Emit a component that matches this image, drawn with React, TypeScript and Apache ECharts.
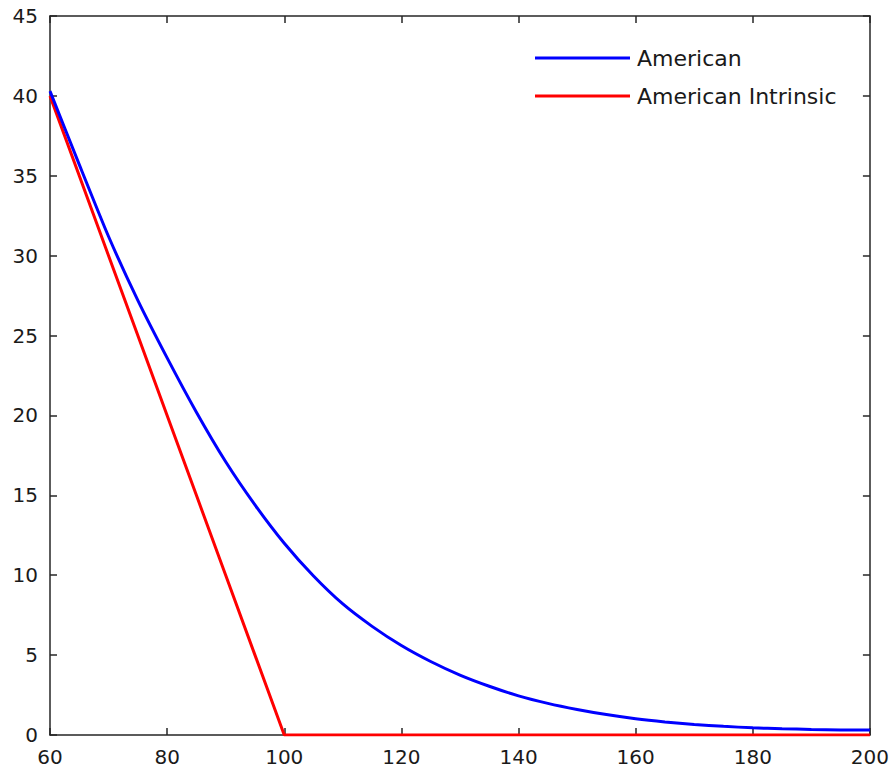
import React, { useEffect, useRef } from "react";
import * as echarts from "echarts";

const stockPrices = [60, 65, 70, 75, 80, 85, 90, 95, 100, 105, 110, 115, 120, 125, 130, 135, 140, 145, 150, 155, 160, 165, 170, 175, 180, 185, 190, 195, 200];
const americanValues = [40.3, 35.7, 31.2, 27.2, 23.6, 20.2, 17.1, 14.4, 12.0, 9.95, 8.2, 6.8, 5.6, 4.6, 3.75, 3.05, 2.45, 1.98, 1.6, 1.28, 1.02, 0.82, 0.66, 0.54, 0.45, 0.39, 0.35, 0.32, 0.31];
const intrinsicPrices = [60, 65, 70, 75, 80, 85, 90, 95, 100, 101, 200];
const intrinsicValues = [40, 35, 30, 25, 20, 15, 10, 5, 0, 0, 0];
const xTicks = [60, 80, 100, 120, 140, 160, 180, 200];
const yTicks = [0, 5, 10, 15, 20, 25, 30, 35, 40, 45];
const seriesNames = ["American", "American Intrinsic"];
const seriesColors = ["#0000ff", "#ff0000"];

const FONT = "DejaVu Sans";
const AXIS_COLOR = "#262626";
const TEXT_COLOR = "#1a1a1a";

function mkLine() {
  return { show: true, onZero: false, lineStyle: { color: AXIS_COLOR, width: 1.5 } };
}
function mkTick() {
  return { show: true, inside: true, length: 7, lineStyle: { color: AXIS_COLOR, width: 1.5 } };
}

export default function App() {
  const ref = useRef<HTMLDivElement>(null);
  useEffect(() => {
    if (!ref.current) return;
    const chart = echarts.init(ref.current, null, { renderer: "svg" });
    const mkX = (position: "top" | "bottom", showLabel: boolean) => ({
      type: "value",
      position,
      min: xTicks[0],
      max: xTicks[xTicks.length - 1],
      interval: 20,
      axisLine: mkLine(),
      axisTick: mkTick(),
      splitLine: { show: false },
      axisLabel: showLabel
        ? { show: true, fontFamily: FONT, fontSize: 20, color: TEXT_COLOR, margin: 12 }
        : { show: false },
    });
    const mkY = (position: "left" | "right", showLabel: boolean) => ({
      type: "value",
      position,
      min: yTicks[0],
      max: yTicks[yTicks.length - 1],
      interval: 5,
      axisLine: mkLine(),
      axisTick: mkTick(),
      splitLine: { show: false },
      axisLabel: showLabel
        ? { show: true, fontFamily: FONT, fontSize: 20, color: TEXT_COLOR, margin: 12 }
        : { show: false },
    });
    chart.setOption({
      animation: false,
      backgroundColor: "#ffffff",
      grid: { left: 50, right: 21, top: 16, bottom: 38, containLabel: false },
      legend: {
        orient: "vertical",
        left: 535,
        top: 47,
        padding: 0,
        itemWidth: 95,
        itemHeight: 3,
        itemGap: 16,
        data: seriesNames.map((n) => ({ name: n, icon: "rect" })),
        textStyle: { fontFamily: FONT, fontSize: 22, color: TEXT_COLOR, padding: [0, 0, 0, 2] },
      },
      xAxis: [mkX("bottom", true), mkX("top", false)],
      yAxis: [mkY("left", true), mkY("right", false)],
      series: [
        {
          name: seriesNames[0],
          type: "line",
          symbol: "none",
          smooth: 0.2,
          color: seriesColors[0],
          itemStyle: { color: seriesColors[0] },
          lineStyle: { color: seriesColors[0], width: 3 },
          data: stockPrices.map((s, i) => [s, americanValues[i]]),
          z: 3,
        },
        {
          name: seriesNames[1],
          type: "line",
          symbol: "none",
          color: seriesColors[1],
          itemStyle: { color: seriesColors[1] },
          lineStyle: { color: seriesColors[1], width: 3 },
          data: intrinsicPrices.map((s, i) => [s, intrinsicValues[i]]),
          z: 2,
        },
      ],
    });
    return () => chart.dispose();
  }, []);
  return (
    <div style={{ position: "fixed", left: 0, top: 0, width: 892, height: 773, background: "#fff" }}>
      <div ref={ref} style={{ width: 892, height: 773 }} />
    </div>
  );
}
